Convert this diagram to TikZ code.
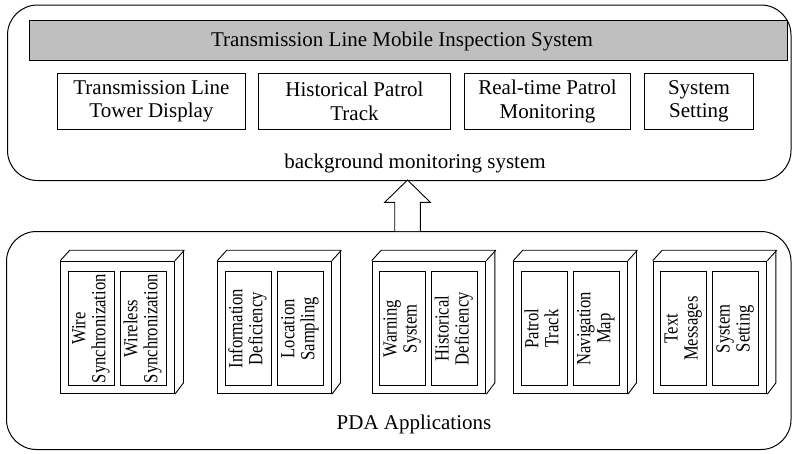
\documentclass[tikz,border=0pt]{standalone}
\usepackage{fontspec}
\usepackage{graphicx}
\setmainfont{Liberation Serif}
\usetikzlibrary{calc}

% two-line caption, set along the long side of an application item
\newcommand\appcaption[2]{\scalebox{0.83}[1]{\begin{tabular}{@{}c@{}}#1\\#2\end{tabular}}}

\tikzset{
  txt/.style={font=\fontsize{21}{23.5}\selectfont, inner sep=0pt},
  panel/.style={draw, line width=1pt, rounded corners=30pt, anchor=north west, inner sep=0pt},
  titlebar/.style={draw, line width=0.9pt, fill=gray!50, anchor=north west, inner sep=0pt},
  modbox/.style={draw, line width=0.9pt, anchor=north west, inner sep=0pt, align=center,
    minimum height=56pt, font=\fontsize{21}{23.3}\selectfont},
  appfront/.style={draw, line width=0.9pt, anchor=north west, inner sep=0pt,
    minimum width=113.7pt, minimum height=132.6pt},
  appitem/.style={draw, line width=0.9pt, rotate=90, inner sep=0pt,
    minimum width=114pt, minimum height=46pt, font=\fontsize{20}{20}\selectfont},
  depth/.style={line width=0.9pt, line join=miter}
}

% a framed 3-D module holding two application items
\newcommand\appmodule[4]{%
  \node[appfront] (#1) at (#2,260.7) {};
  \draw[depth] (#1.north west) -- ++(9.5,-10.5) -- ++(113.7,0) -- ++(0,132.6)
    -- (#1.south east);
  \draw[depth] (#1.north east) -- ++(9.5,-10.5);
  \node[appitem] (#1a) at ($(#1.north west)+(31,68)$) {#3};
  \node[appitem] (#1b) at ($(#1.north west)+(83,68)$) {#4};
}

\begin{document}
\begin{tikzpicture}[x=1pt, y=-1pt]
\useasboundingbox (0,0) rectangle (792,453);

% background monitoring system
\node[panel, minimum width=783.5pt, minimum height=175.5pt] (bgsys) at (7,4.5) {};
\node[titlebar, minimum width=757.5pt, minimum height=39.5pt] (title) at (29,20) {};
\node[txt, anchor=base] (titletext) at (402,46.7) {Transmission Line Mobile Inspection System};
\node[modbox, minimum width=188pt] (tower) at (57,73) {Transmission Line\\Tower Display};
\node[modbox, minimum width=192pt] (hist) at (258,73) {Historical Patrol\\Track};
\node[modbox, minimum width=166pt] (realtime) at (464,73) {Real-time Patrol\\Monitoring};
\node[modbox, minimum width=109pt] (setting) at (644,73) {System\\Setting};
\node[txt, anchor=base] (bglabel) at (415,168) {background monitoring system};

% PDA applications
\node[panel, minimum width=784.5pt, minimum height=218pt] (pda) at (6,231) {};
\appmodule{sync}{60.3}{\appcaption{Wire}{Synchronization}}{\appcaption{Wireless}{Synchronization}}
\appmodule{info}{217.3}{\appcaption{Information}{Deficiency}}{\appcaption{Location}{Sampling}}
\appmodule{warn}{371.7}{\appcaption{Warning}{System}}{\appcaption{Historical}{Deficiency}}
\appmodule{patrol}{513.3}{\appcaption{Patrol}{Track}}{\appcaption{Navigation}{Map}}
\appmodule{msg}{652.7}{\appcaption{Text}{Messages}}{\appcaption{System}{Setting}}
\node[txt, anchor=base] (pdalabel) at (414,429) {PDA Applications};

% hollow arrow from the PDA side up to the monitoring system
\coordinate (arrowtip) at (407.5,180);
\coordinate (arrowfoot) at (407.5,231);
\draw[line width=0.9pt, fill=white, line join=miter]
  ($(arrowfoot)+(-12.8,0)$) -- ($(arrowfoot)+(-12.8,-28.7)$) -- ($(arrowfoot)+(-22.8,-28.7)$)
  -- (arrowtip) -- ($(arrowfoot)+(22.8,-28.7)$) -- ($(arrowfoot)+(12.8,-28.7)$)
  -- ($(arrowfoot)+(12.8,0)$);
\end{tikzpicture}
\end{document}
